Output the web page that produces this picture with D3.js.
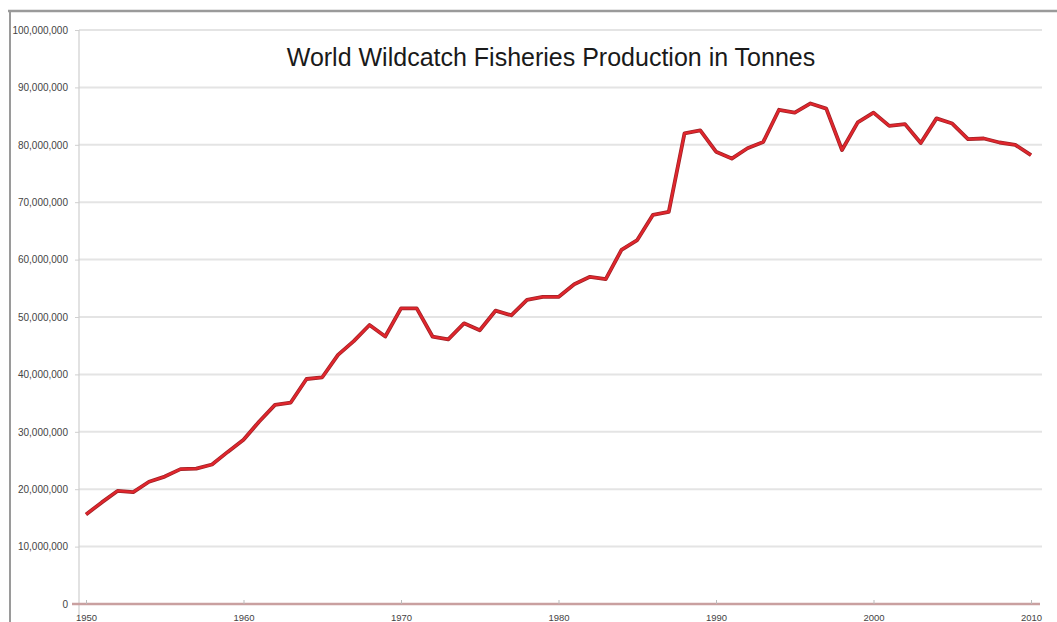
<!DOCTYPE html>
<html>
<head>
<meta charset="utf-8">
<script src="https://cdn.jsdelivr.net/npm/d3@7"></script>
<style>
  html, body { margin: 0; padding: 0; background: #fff; }
  svg { display: block; }
</style>
</head>
<body>
<svg id="chart" width="1057" height="622"></svg>
<script>
const title = "World Wildcatch Fisheries Production in Tonnes";
const years = d3.range(1950, 2011);
// World wild-catch production, millions of tonnes
const catchMillions = [
  15.6, 17.7, 19.7, 19.5, 21.3, 22.2, 23.5, 23.6, 24.3, 26.5,
  28.6, 31.8, 34.7, 35.1, 39.2, 39.5, 43.4, 45.8, 48.6, 46.6,
  51.5, 51.5, 46.6, 46.1, 48.9, 47.7, 51.1, 50.3, 53.0, 53.5,
  53.5, 55.7, 57.0, 56.6, 61.7, 63.4, 67.8, 68.3, 82.0, 82.5,
  78.8, 77.6, 79.4, 80.5, 86.1, 85.6, 87.2, 86.3, 79.1, 83.9,
  85.6, 83.3, 83.6, 80.3, 84.6, 83.7, 81.0, 81.1, 80.4, 80.0,
  78.2
];
const yTicks = [0, 10e6, 20e6, 30e6, 40e6, 50e6, 60e6, 70e6, 80e6, 90e6, 100e6];
const xTicks = [1950, 1960, 1970, 1980, 1990, 2000, 2010];

const data = years.map((yr, i) => ({ year: yr, value: catchMillions[i] * 1e6 }));

const svg = d3.select("#chart");
const plotL = 79, plotR = 1042, plotT = 30, plotB = 604;

const x = d3.scaleLinear().domain([1950, 2010]).range([86, 1031]);
const y = d3.scaleLinear().domain([0, 100e6]).range([plotB, plotT]);

// outer frame
svg.append("line").attr("x1", 8).attr("x2", 1057).attr("y1", 11).attr("y2", 11)
  .attr("stroke", "#9a9a9a").attr("stroke-width", 2.5);
svg.append("line").attr("x1", 10).attr("x2", 10).attr("y1", 10).attr("y2", 622)
  .attr("stroke", "#9a9a9a").attr("stroke-width", 2);

// gridlines
svg.append("g").selectAll("line").data(yTicks.filter(d => d > 0)).join("line")
  .attr("x1", plotL).attr("x2", plotR)
  .attr("y1", d => y(d)).attr("y2", d => y(d))
  .attr("stroke", "#e4e4e4").attr("stroke-width", 2);

// y axis
const yAxis = d3.axisLeft(y).tickValues(yTicks).tickSize(4).tickPadding(7)
  .tickFormat(d3.format(","));
const gy = svg.append("g").attr("transform", `translate(${plotL},0)`).call(yAxis);
gy.select(".domain").attr("stroke", "#cfcfcf").attr("stroke-width", 1.2)
  .attr("d", `M0,${plotT}V${plotB + 12}`);
gy.selectAll(".tick line").attr("stroke", "#cfcfcf");
gy.selectAll(".tick text").attr("fill", "#444")
  .style("font-family", "Liberation Sans, Arial, sans-serif").style("font-size", "10px");

// x axis
const xAxis = d3.axisBottom(x).tickValues(xTicks).tickSize(3).tickPadding(7)
  .tickFormat(d3.format("d"));
const gx = svg.append("g").attr("transform", `translate(0,${plotB})`).call(xAxis);
gx.select(".domain").attr("stroke", "#c9a0a0").attr("stroke-width", 2.5)
  .attr("d", `M72,0H1040`);
gx.selectAll(".tick line").attr("stroke", "#bbb").attr("y1", -4).attr("y2", 0);
gx.selectAll(".tick text").attr("fill", "#444")
  .style("font-family", "Liberation Sans, Arial, sans-serif").style("font-size", "9.5px");

// line
const line = d3.line().x(d => x(d.year)).y(d => y(d.value));
svg.append("path").datum(data)
  .attr("fill", "none").attr("stroke", "#9e2226").attr("stroke-width", 3.8)
  .attr("stroke-linejoin", "round").attr("d", line);
svg.append("path").datum(data)
  .attr("fill", "none").attr("stroke", "#e0262d").attr("stroke-width", 2.3)
  .attr("stroke-linejoin", "round").attr("d", line);

// title
svg.append("text").attr("x", 551).attr("y", 66).attr("text-anchor", "middle")
  .attr("fill", "#1a1a1a")
  .style("font-family", "Liberation Sans, Arial, sans-serif").style("font-size", "25px")
  .text(title);
</script>
</body>
</html>
